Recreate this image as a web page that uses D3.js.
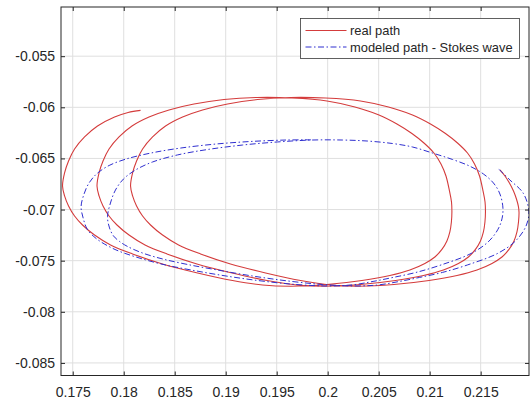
<!DOCTYPE html>
<html>
<head>
<meta charset="utf-8">
<script src="https://cdnjs.cloudflare.com/ajax/libs/d3/7.8.5/d3.min.js"></script>
<style>
  body { margin: 0; background: #fff; }
  svg text { font-family: "Liberation Sans", Arial, sans-serif; }
</style>
</head>
<body>
<div id="chart"></div>
<script>
// tick values and labels, as printed on the axes
var xTicks = [0.175, 0.18, 0.185, 0.19, 0.195, 0.2, 0.205, 0.21, 0.215];
var xTickLabels = ["0.175", "0.18", "0.185", "0.19", "0.195", "0.2", "0.205", "0.21", "0.215"];
var yTicks = [-0.085, -0.08, -0.075, -0.07, -0.065, -0.06, -0.055];
var yTickLabels = ["-0.085", "-0.08", "-0.075", "-0.07", "-0.065", "-0.06", "-0.055"];

var seriesNames = ["real path", "modeled path - Stokes wave"];

// real path
var realX = [
  0.21689, 0.21738, 0.21782, 0.21822, 0.21851, 0.21869,
  0.21876, 0.21871, 0.21856, 0.21827, 0.21778, 0.21709, 0.21611, 0.21464, 0.21268, 0.20994,
  0.20650, 0.20307, 0.20028, 0.19734, 0.19391, 0.19047, 0.18753, 0.18538, 0.18381, 0.18263,
  0.18185, 0.18126, 0.18087, 0.18067,
  0.18087, 0.18126, 0.18185, 0.18283, 0.18410, 0.18577, 0.18773, 0.19018, 0.19312, 0.19636,
  0.19979, 0.20322, 0.20596, 0.20832, 0.21008, 0.21155, 0.21273, 0.21371, 0.21440, 0.21489,
  0.21523, 0.21543, 0.21547,
  0.21542, 0.21527, 0.21498, 0.21449, 0.21380, 0.21282, 0.21135, 0.20939, 0.20665, 0.20321,
  0.19978, 0.19699, 0.19405, 0.19062, 0.18718, 0.18424, 0.18209, 0.18052, 0.17934, 0.17856,
  0.17797, 0.17758, 0.17738,
  0.17758, 0.17797, 0.17856, 0.17954, 0.18081, 0.18248, 0.18444, 0.18689, 0.18983, 0.19307,
  0.19650, 0.19993, 0.20267, 0.20503, 0.20679, 0.20826, 0.20944, 0.21042, 0.21111, 0.21160,
  0.21194, 0.21214, 0.21218,
  0.21213, 0.21198, 0.21169, 0.21120, 0.21051, 0.20953, 0.20806, 0.20610, 0.20336, 0.19993,
  0.19640, 0.19361, 0.19067, 0.18724, 0.18380, 0.18086, 0.17871, 0.17714, 0.17596, 0.17518,
  0.17459, 0.17420, 0.17400,
  0.17420, 0.17459, 0.17518, 0.17616, 0.17743, 0.17910, 0.18043, 0.18165
];
var realY = [
  -0.06613, -0.06672, -0.06740, -0.06818, -0.06897, -0.06965,
  -0.07024, -0.07122, -0.07219, -0.07307, -0.07390, -0.07464, -0.07527, -0.07591, -0.07645, -0.07694,
  -0.07733, -0.07750, -0.07738, -0.07694, -0.07620, -0.07532, -0.07434, -0.07346, -0.07249, -0.07151,
  -0.07063, -0.06965, -0.06867, -0.06770,
  -0.06642, -0.06525, -0.06408, -0.06290, -0.06183, -0.06095, -0.06026, -0.05968, -0.05924, -0.05904,
  -0.05909, -0.05938, -0.05997, -0.06075, -0.06163, -0.06256, -0.06349, -0.06447, -0.06554, -0.06672,
  -0.06818, -0.06926, -0.07024,
  -0.07122, -0.07219, -0.07307, -0.07390, -0.07464, -0.07527, -0.07591, -0.07645, -0.07694, -0.07733,
  -0.07750, -0.07738, -0.07694, -0.07620, -0.07532, -0.07434, -0.07346, -0.07249, -0.07151, -0.07063,
  -0.06965, -0.06867, -0.06770,
  -0.06642, -0.06525, -0.06408, -0.06290, -0.06183, -0.06095, -0.06026, -0.05968, -0.05924, -0.05904,
  -0.05909, -0.05938, -0.05997, -0.06075, -0.06163, -0.06256, -0.06349, -0.06447, -0.06554, -0.06672,
  -0.06818, -0.06926, -0.07024,
  -0.07122, -0.07219, -0.07307, -0.07390, -0.07464, -0.07527, -0.07591, -0.07645, -0.07694, -0.07733,
  -0.07750, -0.07738, -0.07694, -0.07620, -0.07532, -0.07434, -0.07346, -0.07249, -0.07151, -0.07063,
  -0.06965, -0.06867, -0.06770,
  -0.06642, -0.06525, -0.06408, -0.06290, -0.06183, -0.06095, -0.06050, -0.06030
];

// modeled path - Stokes wave
var modelX = [
  0.21679, 0.21787, 0.21918,
  0.21972, 0.21949, 0.21851, 0.21674, 0.21370, 0.21125, 0.20900, 0.20704, 0.20488, 0.20243,
  0.19949, 0.19606, 0.19263, 0.18919, 0.18625, 0.18380, 0.18184, 0.18037, 0.17959, 0.17900,
  0.17861, 0.17841,
  0.17870, 0.17919, 0.17998, 0.18116, 0.18282, 0.18527, 0.18821, 0.19165, 0.19508, 0.19851,
  0.20145, 0.20390, 0.20635, 0.20831, 0.21027, 0.21223, 0.21390, 0.21527, 0.21625, 0.21689,
  0.21719,
  0.21690, 0.21592, 0.21415, 0.21111, 0.20866, 0.20641, 0.20445, 0.20229, 0.19984, 0.19690,
  0.19347, 0.19004, 0.18660, 0.18366, 0.18121, 0.17925, 0.17778, 0.17700, 0.17641, 0.17602,
  0.17582,
  0.17611, 0.17660, 0.17739, 0.17857, 0.18023, 0.18268, 0.18562, 0.18906, 0.19249, 0.19592,
  0.19837
];
var modelY = [
  -0.06606, -0.06711, -0.06841,
  -0.07014, -0.07151, -0.07298, -0.07425, -0.07542, -0.07615, -0.07664, -0.07703, -0.07738, -0.07747,
  -0.07733, -0.07698, -0.07650, -0.07591, -0.07537, -0.07483, -0.07425, -0.07361, -0.07312, -0.07258,
  -0.07180, -0.07070,
  -0.06936, -0.06809, -0.06701, -0.06613, -0.06535, -0.06466, -0.06413, -0.06369, -0.06339, -0.06320,
  -0.06320, -0.06330, -0.06354, -0.06388, -0.06447, -0.06510, -0.06574, -0.06652, -0.06740, -0.06848,
  -0.07004,
  -0.07151, -0.07298, -0.07425, -0.07542, -0.07615, -0.07664, -0.07703, -0.07738, -0.07747, -0.07733,
  -0.07698, -0.07650, -0.07591, -0.07532, -0.07464, -0.07395, -0.07317, -0.07258, -0.07190, -0.07082,
  -0.06972,
  -0.06848, -0.06740, -0.06647, -0.06569, -0.06506, -0.06447, -0.06398, -0.06359, -0.06334, -0.06320,
  -0.06318
];

var svgWidth = 530;
var svgHeight = 406;

var margin = {
  top: 7,
  right: 1,
  bottom: 30.5,
  left: 61
};

var width = svgWidth - margin.left - margin.right;
var height = svgHeight - margin.top - margin.bottom;

var axisColor = "#262626";
var gridColor = "#dfdfdf";
var realColor = "#d43c3c";
var modelColor = "#2f2fcf";
var dashDot = "6,2.5,1.5,2.5";

var svg = d3
  .select("#chart")
  .append("svg")
  .attr("width", svgWidth)
  .attr("height", svgHeight);

svg.append("rect")
  .attr("width", svgWidth)
  .attr("height", svgHeight)
  .attr("fill", "#ffffff");

var chartGroup = svg.append("g")
  .attr("transform", `translate(${margin.left}, ${margin.top})`);

// axis limits (tight on x, equal aspect on y)
var xScale = d3.scaleLinear()
  .domain([0.17385, 0.21974])
  .range([0, width]);

var yScale = d3.scaleLinear()
  .domain([-0.08623, -0.05019])
  .range([height, 0]);

// grid
chartGroup.append("g")
  .selectAll("line")
  .data(xTicks)
  .enter()
  .append("line")
  .attr("x1", d => xScale(d))
  .attr("x2", d => xScale(d))
  .attr("y1", 0)
  .attr("y2", height)
  .attr("stroke", gridColor)
  .attr("stroke-width", 1);

chartGroup.append("g")
  .selectAll("line")
  .data(yTicks)
  .enter()
  .append("line")
  .attr("x1", 0)
  .attr("x2", width)
  .attr("y1", d => yScale(d))
  .attr("y2", d => yScale(d))
  .attr("stroke", gridColor)
  .attr("stroke-width", 1);

// paths
svg.append("defs").append("clipPath")
  .attr("id", "plotClip")
  .append("rect")
  .attr("width", width)
  .attr("height", height);

var line = d3.line()
  .x(d => xScale(d[0]))
  .y(d => yScale(d[1]))
  .curve(d3.curveCatmullRom.alpha(0.5));

var realPoints = realX.map((x, i) => [x, realY[i]]);
var modelPoints = modelX.map((x, i) => [x, modelY[i]]);

var plotGroup = chartGroup.append("g")
  .attr("clip-path", "url(#plotClip)");

plotGroup.append("path")
  .datum(realPoints)
  .attr("d", line)
  .attr("fill", "none")
  .attr("stroke", realColor)
  .attr("stroke-width", 1.1);

plotGroup.append("path")
  .datum(modelPoints)
  .attr("d", line)
  .attr("fill", "none")
  .attr("stroke", modelColor)
  .attr("stroke-width", 1)
  .attr("stroke-dasharray", dashDot);

// axes, ticks pointing inwards
var bottomAxis = d3.axisBottom(xScale)
  .tickValues(xTicks)
  .tickFormat((d, i) => xTickLabels[i])
  .tickSizeInner(-4)
  .tickSizeOuter(0)
  .tickPadding(11.5);

var leftAxis = d3.axisLeft(yScale)
  .tickValues(yTicks)
  .tickFormat((d, i) => yTickLabels[i])
  .tickSizeInner(-4)
  .tickSizeOuter(0)
  .tickPadding(6);

var topAxis = d3.axisTop(xScale)
  .tickValues(xTicks)
  .tickFormat("")
  .tickSizeInner(-4)
  .tickSizeOuter(0);

var rightAxis = d3.axisRight(yScale)
  .tickValues(yTicks)
  .tickFormat("")
  .tickSizeInner(-4)
  .tickSizeOuter(0);

var axes = [
  chartGroup.append("g").attr("transform", `translate(0, ${height})`).call(bottomAxis),
  chartGroup.append("g").call(leftAxis),
  chartGroup.append("g").call(topAxis),
  chartGroup.append("g").attr("transform", `translate(${width}, 0)`).call(rightAxis)
];

axes.forEach(function(g) {
  g.select(".domain").remove();
  g.selectAll("line").attr("stroke", axisColor);
  g.selectAll("text")
    .attr("fill", axisColor)
    .attr("font-size", "14px")
    .attr("font-family", "Liberation Sans, Arial, sans-serif");
});

// axes box
chartGroup.append("rect")
  .attr("x", 0)
  .attr("y", 0)
  .attr("width", width)
  .attr("height", height)
  .attr("fill", "none")
  .attr("stroke", axisColor)
  .attr("stroke-width", 1);

// legend
var legend = svg.append("g")
  .attr("transform", "translate(300.5, 18.5)");

legend.append("rect")
  .attr("width", 219)
  .attr("height", 40)
  .attr("fill", "#ffffff")
  .attr("stroke", "#3a3a3a")
  .attr("stroke-width", 0.8);

var legendStyles = [
  { color: realColor, dash: null, width: 1.1 },
  { color: modelColor, dash: dashDot, width: 1 }
];

seriesNames.forEach(function(name, i) {
  var yPos = 12 + i * 16.5;
  legend.append("line")
    .attr("x1", 5)
    .attr("x2", 46)
    .attr("y1", yPos)
    .attr("y2", yPos)
    .attr("stroke", legendStyles[i].color)
    .attr("stroke-width", legendStyles[i].width)
    .attr("stroke-dasharray", legendStyles[i].dash);
  legend.append("text")
    .attr("x", 49.5)
    .attr("y", yPos + 4.5)
    .attr("font-size", "12.9px")
    .attr("fill", axisColor)
    .text(name);
});
</script>
</body>
</html>
